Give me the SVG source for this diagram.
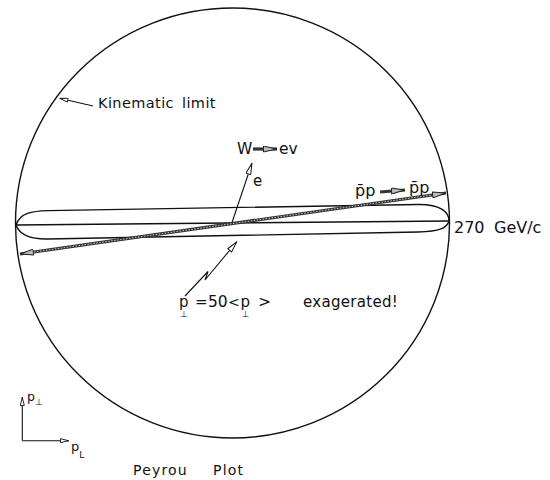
<svg xmlns="http://www.w3.org/2000/svg" width="550" height="480" viewBox="0 0 550 480">
<style>
text{font-family:"DejaVu Sans","Liberation Sans",sans-serif;fill:#111}
.ln{fill:none;stroke:#111;stroke-width:1.4}
.thin{fill:none;stroke:#111;stroke-width:1.1}
.hatch{fill:none;stroke:#333;stroke-width:3.2}
.hatchin{fill:none;stroke:#ccc;stroke-width:1;stroke-dasharray:1.5 1.5}
.sub{font-size:9px}
</style>
<defs>
<marker id="hollow" viewBox="0 0 12 6" refX="12" refY="3" markerWidth="12" markerHeight="6" markerUnits="userSpaceOnUse" orient="auto-start-reverse">
<path d="M0.5,0.5 L11.5,3 L0.5,5.5 Z" fill="#fff" stroke="#111" stroke-width="1"/>
</marker>
<marker id="hollowsm" viewBox="0 0 9 5" refX="9" refY="2.5" markerWidth="9" markerHeight="5" markerUnits="userSpaceOnUse" orient="auto-start-reverse">
<path d="M0.5,0.5 L8.5,2.5 L0.5,4.5 Z" fill="#fff" stroke="#111" stroke-width="0.9"/>
</marker>
<marker id="gray" viewBox="0 0 14 7" refX="14" refY="3.5" markerWidth="14" markerHeight="7" markerUnits="userSpaceOnUse" orient="auto-start-reverse">
<path d="M0.5,0.5 L13.5,3.5 L0.5,6.5 Z" fill="#bbb" stroke="#222" stroke-width="1"/>
</marker>
</defs>
<rect width="550" height="480" fill="#fff"/>

<g id="kinematic-limit-circle">
<ellipse cx="232.5" cy="223" rx="217" ry="215" class="ln"/>
</g>

<g id="cigar">
<path class="ln" d="M16,225 C20,213 32,211 48,210.6 L418,204.5 C440,204 449,212 449,221 C447,228 440,231.5 418,232 L48,239 C32,239.3 20,236 16,225 Z"/>
<line class="ln" x1="16" y1="225" x2="449" y2="221"/>
</g>

<g id="connectors">
<line class="hatch" x1="20" y1="254" x2="446" y2="193" marker-start="url(#gray)" marker-end="url(#gray)"/>
<line class="hatchin" x1="34" y1="252" x2="432" y2="195"/>
<line class="thin" x1="232" y1="222.5" x2="252" y2="163" marker-end="url(#hollow)"/>
<line class="thin" x1="93" y1="106" x2="59.5" y2="98.3" marker-end="url(#hollowsm)"/>
<path class="thin" d="M185,296 L208,271.5 L205,280 L237,241.5" marker-end="url(#hollow)"/>
<line class="hatch" x1="253" y1="149" x2="277" y2="149" stroke-width="2.6" marker-end="url(#gray)"/>
<line class="hatch" x1="380" y1="192" x2="405" y2="190" stroke-width="2.6" marker-end="url(#gray)"/>
<line class="thin" x1="22.3" y1="440.7" x2="22.3" y2="397" marker-end="url(#hollowsm)"/>
<line class="thin" x1="22.3" y1="440.7" x2="69" y2="440.7" marker-end="url(#hollowsm)"/>
</g>

<g id="label-kinematic">
<text x="98" y="108" font-size="14.5" letter-spacing="0.4">Kinematic</text>
<text x="182" y="108" font-size="14.5" letter-spacing="0.4">limit</text>
</g>
<g id="label-W">
<text x="237" y="153.5" font-size="15.5">W</text>
<text x="279" y="153.5" font-size="15.5">ev</text>
</g>
<g id="label-e">
<text x="253" y="186" font-size="15">e</text>
</g>
<g id="label-ppbar">
<text x="355" y="196" font-size="16">p̄p</text>
<text x="409" y="193" font-size="16">p̄p</text>
</g>
<g id="label-270">
<text x="454" y="232.5" font-size="16">270</text>
<text x="494" y="232.5" font-size="16">GeV/c</text>
</g>
<g id="label-pt">
<text x="179" y="306.5" font-size="15">p<tspan class="sub" dx="-8.5" dy="10.5">⊥</tspan></text>
<text x="195" y="306.5" font-size="15">=</text>
<text x="208" y="306.5" font-size="15.5">50</text>
<text x="228" y="306.5" font-size="14">&lt;</text>
<text x="240.5" y="306.5" font-size="15">p<tspan class="sub" dx="-8.5" dy="10.5">⊥</tspan></text>
<text x="258" y="306.5" font-size="15.5">&gt;</text>
<text x="303" y="306.5" font-size="15" letter-spacing="0.3">exagerated!</text>
</g>
<g id="axis-labels">
<text x="27" y="401" font-size="12.5">p<tspan class="sub" dy="4">⊥</tspan></text>
<text x="71" y="451" font-size="13">p<tspan class="sub" dy="7">L</tspan></text>
</g>
<g id="title">
<text x="133" y="475" font-size="14" letter-spacing="1.2">Peyrou</text>
<text x="213" y="475" font-size="14" letter-spacing="1.2">Plot</text>
</g>
</svg>
